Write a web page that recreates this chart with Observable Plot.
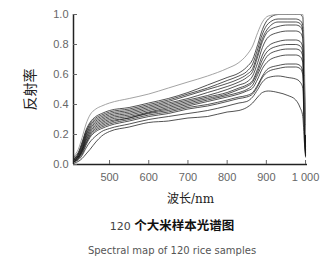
<!DOCTYPE html>
<html>
<head>
<meta charset="utf-8">
<script src="https://cdn.jsdelivr.net/npm/d3@7"></script>
<script src="https://cdn.jsdelivr.net/npm/@observablehq/plot@0.6"></script>
<style>
  body { margin: 0; background: #fff; width: 336px; }
  #chart svg { display: block; }
  .title { text-align: center; font-family: "Noto Sans CJK SC", sans-serif; font-size: 12.5px; line-height: 16px; color: #111; margin-top: 7px; margin-left: 8px; }
  .title .num { font-family: "DejaVu Sans", sans-serif; font-weight: normal; font-size: 11px; color: #444; }
  .title .cjk { font-weight: bold; }
  .subtitle { text-align: center; font-family: "DejaVu Sans", sans-serif; font-size: 10px; line-height: 14px; color: #555; margin-top: 9px; margin-left: 8px; }
</style>
</head>
<body>
<div id="chart"></div>
<div class="title"><span class="num">120 </span><span class="cjk">个大米样本光谱图</span></div>
<div class="subtitle">Spectral map of 120 rice samples</div>
<script>
// wavelength (nm)
const wavelength = [410, 420, 430, 440, 450, 465, 480, 500, 550, 600, 650, 700, 750, 800, 830, 850, 865, 878, 890, 905, 930, 955, 975, 986, 993, 997, 1000];
// reflectance of representative samples
const s01 = [.06,.10,.18,.27,.33,.37,.39,.41,.44,.47,.51,.55,.59,.64,.68,.73,.79,.88,.95,.99,1.0,1.0,1.0,1.0,1.0,.70,.20];
const s02 = [.05,.08,.15,.23,.28,.32,.34,.36,.38,.41,.44,.48,.53,.58,.61,.65,.70,.80,.90,.97,1.0,1.0,1.0,1.0,.98,.60,.15];
const s03 = [.04,.07,.14,.22,.27,.31,.33,.35,.37,.40,.43,.47,.51,.56,.59,.62,.67,.77,.87,.94,.97,.97,.97,.96,.93,.55,.12];
const s04 = [.04,.07,.13,.21,.26,.30,.32,.34,.36,.39,.42,.46,.50,.54,.57,.60,.64,.74,.84,.91,.95,.95,.95,.94,.90,.50,.12];
const s05 = [.03,.06,.12,.20,.25,.29,.31,.33,.35,.38,.41,.44,.48,.52,.55,.58,.62,.72,.82,.89,.92,.93,.93,.92,.88,.45,.10];
const s06 = [.03,.06,.11,.19,.24,.28,.30,.32,.34,.37,.40,.43,.46,.50,.53,.55,.59,.68,.78,.85,.88,.89,.89,.88,.84,.40,.10];
const s07 = [.03,.05,.10,.18,.23,.27,.29,.31,.33,.36,.39,.42,.45,.48,.51,.53,.56,.64,.73,.79,.82,.83,.83,.82,.78,.38,.09];
const s08 = [.03,.05,.10,.17,.22,.26,.28,.30,.32,.35,.38,.41,.44,.47,.50,.52,.55,.62,.70,.76,.79,.80,.80,.79,.75,.35,.08];
const s09 = [.02,.05,.09,.16,.21,.25,.27,.29,.31,.345,.37,.40,.43,.46,.48,.50,.53,.60,.67,.73,.76,.77,.77,.76,.72,.33,.08];
const s10 = [.02,.04,.09,.15,.20,.24,.26,.28,.31,.34,.36,.39,.42,.45,.47,.49,.51,.57,.64,.69,.72,.73,.73,.72,.68,.30,.07];
const s11 = [.02,.04,.08,.14,.19,.23,.25,.27,.30,.33,.35,.38,.40,.43,.45,.46,.48,.53,.59,.64,.66,.67,.67,.66,.62,.28,.07];
const s12 = [.02,.04,.07,.13,.18,.22,.24,.26,.29,.32,.34,.37,.39,.42,.44,.45,.47,.52,.58,.62,.64,.65,.65,.64,.60,.26,.06];
const s13 = [.02,.03,.06,.11,.15,.19,.22,.24,.27,.30,.32,.34,.36,.39,.41,.42,.45,.50,.55,.58,.59,.58,.57,.55,.51,.22,.06];
const s14 = [.01,.02,.04,.07,.10,.15,.19,.22,.25,.28,.29,.31,.32,.35,.36,.38,.41,.45,.48,.49,.48,.46,.43,.38,.32,.15,.05];
const xTicks = [500, 600, 700, 800, 900, 1000];
const yTicks = [0, 0.2, 0.4, 0.6, 0.8, 1.0];
const xLabel = "波长/nm";
const yLabel = "反射率";

const series = [s01, s02, s03, s04, s05, s06, s07, s08, s09, s10, s11, s12, s13, s14];
const rows = series.flatMap((vals, i) => vals.map((v, j) => ({id: i, wl: wavelength[j], r: v})));

const chart = Plot.plot({
  width: 336,
  height: 210,
  marginLeft: 73,
  marginRight: 29,
  marginTop: 14,
  marginBottom: 46,
  x: {domain: [408, 1005]},
  y: {domain: [0, 1]},
  style: {fontFamily: "Liberation Sans", fontSize: "11px", color: "#666", background: "#fff"},
  marks: [
    Plot.lineY(rows.filter(d => d.id > 0), {x: "wl", y: "r", z: "id", stroke: "#1a1a1a", strokeWidth: 1, strokeOpacity: 0.75, curve: "monotone-x"}),
    Plot.lineY(rows.filter(d => d.id === 0), {x: "wl", y: "r", z: "id", stroke: "#999", strokeWidth: 0.9, curve: "monotone-x"}),
    Plot.ruleX([408], {stroke: "#222", strokeWidth: 1.5}),
    Plot.ruleY([0], {stroke: "#222", strokeWidth: 1.5}),
    Plot.axisX({ticks: xTicks, tickSize: -4, tickPadding: 13, tickFormat: d => d === 1000 ? "1 000" : String(d), label: null}),
    Plot.axisY({ticks: yTicks, tickSize: -4, tickPadding: 9, tickFormat: d3.format(".1f"), label: null}),
    Plot.text([xLabel], {frameAnchor: "bottom", lineAnchor: "middle", textAnchor: "middle", dy: 35, fontFamily: "DejaVu Serif, Noto Sans CJK SC", fontSize: 12, fill: "#222"}),
    Plot.text([yLabel], {frameAnchor: "left", textAnchor: "middle", lineAnchor: "middle", dx: -43, rotate: -90, fontFamily: "Noto Sans CJK SC", fontSize: 14, fill: "#222"})
  ]
});
document.getElementById("chart").append(chart);
</script>
</body>
</html>
